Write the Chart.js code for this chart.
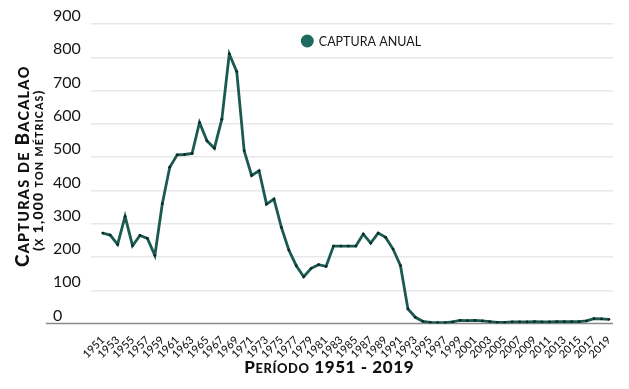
<!DOCTYPE html>
<html lang="es">
<head>
<meta charset="utf-8">
<title>Capturas de bacalao 1951 - 2019</title>
<script src="https://cdn.jsdelivr.net/npm/chart.js@4.4.1/dist/chart.umd.min.js"></script>
<style>
    html, body { margin: 0; padding: 0; background: #ffffff; }
    #wrap { width: 629px; height: 389px; }
</style>
</head>
<body>
<div id="wrap"><canvas id="codChart"></canvas></div>
<script>
/* ===========================================
   DATA
=========================================== */

const years = [
    1951, 1952, 1953, 1954, 1955, 1956, 1957, 1958, 1959, 1960,
    1961, 1962, 1963, 1964, 1965, 1966, 1967, 1968, 1969, 1970,
    1971, 1972, 1973, 1974, 1975, 1976, 1977, 1978, 1979, 1980,
    1981, 1982, 1983, 1984, 1985, 1986, 1987, 1988, 1989, 1990,
    1991, 1992, 1993, 1994, 1995, 1996, 1997, 1998, 1999, 2000,
    2001, 2002, 2003, 2004, 2005, 2006, 2007, 2008, 2009, 2010,
    2011, 2012, 2013, 2014, 2015, 2016, 2017, 2018, 2019
];

// capturas anuales, miles de toneladas
const catches = [
    272, 266, 238, 322, 234, 265, 256, 205, 360, 470,
    507, 508, 511, 604, 549, 527, 614, 810, 757, 519,
    445, 459, 359, 374, 289, 221, 174, 141, 166, 177,
    172, 233, 233, 233, 233, 269, 242, 272, 259, 224,
    174, 44, 19, 7, 4, 3, 3, 5, 10, 9,
    10, 8, 6, 4, 4, 5, 5, 5, 6, 5,
    5, 6, 6, 6, 6, 8, 15, 14, 13
];

const xTickYears = [
    1951, 1953, 1955, 1957, 1959, 1961, 1963, 1965, 1967, 1969,
    1971, 1973, 1975, 1977, 1979, 1981, 1983, 1985, 1987, 1989,
    1991, 1993, 1995, 1997, 1999, 2001, 2003, 2005, 2007, 2009,
    2011, 2013, 2015, 2017, 2019
];

const yTicks = [0, 100, 200, 300, 400, 500, 600, 700, 800, 900];

const seriesLabel = "CAPTURA ANUAL";
const yTitleLines = ["Capturas de Bacalao", "(x 1,000 ton métricas)"];
const xTitle = "Período 1951 - 2019";

/* ===========================================
   STYLE
=========================================== */

const FONT = "Lato, 'Noto Sans', sans-serif";
const LINE_COLOR = "#1b5a51";
const DOT_COLOR = "#0c2925";
const LEGEND_COLOR = "#1d6a5e";
const GRID_COLOR = "#e8e8e8";
const TEXT_COLOR = "#161616";

Chart.defaults.font.family = FONT;
Chart.defaults.color = TEXT_COLOR;

/* small caps drawn by hand: lowercase letters become smaller capitals */
function drawSmallCaps(ctx, text, x, y, size, weight, spacing) {
    const glyphs = [];
    let total = 0;
    for (const ch of text) {
        const isLower = ch !== ch.toUpperCase();
        const s = isLower ? size * 0.76 : size;
        const c = ch.toUpperCase();
        ctx.font = weight + " " + s + "px " + FONT;
        const w = ctx.measureText(c).width;
        glyphs.push({ c, s, w });
        total += w;
    }
    total += spacing * (glyphs.length - 1);
    let cx = x - total / 2;
    ctx.textAlign = "left";
    ctx.textBaseline = "alphabetic";
    glyphs.forEach(g => {
        ctx.font = weight + " " + g.s + "px " + FONT;
        ctx.fillText(g.c, cx, y);
        cx += g.w + spacing;
    });
}

/* ===========================================
   PLUGINS
=========================================== */

// zero line, running left under the "0" label
const zeroLine = {
    id: "zeroLine",
    beforeDatasetsDraw(chart) {
        const { ctx, chartArea } = chart;
        const y = chart.scales.y.getPixelForValue(0);
        ctx.save();
        ctx.strokeStyle = "#8a8a8a";
        ctx.lineWidth = 1.5;
        ctx.beginPath();
        ctx.moveTo(chartArea.left - 45, y);
        ctx.lineTo(chartArea.right, y);
        ctx.stroke();
        ctx.restore();
    }
};

// axis titles in small caps
const axisTitles = {
    id: "axisTitles",
    afterDraw(chart) {
        const { ctx, chartArea } = chart;
        const midY = (chartArea.top + chartArea.bottom) / 2;
        ctx.save();
        ctx.fillStyle = "#111111";

        ctx.save();
        ctx.translate(29, midY - 7);
        ctx.rotate(-Math.PI / 2);
        drawSmallCaps(ctx, yTitleLines[0], 0, 0, 19, "900", 1.2);
        ctx.restore();

        ctx.save();
        ctx.translate(43, midY - 3);
        ctx.rotate(-Math.PI / 2);
        drawSmallCaps(ctx, yTitleLines[1], 0, 0, 14, "900", 1.1);
        ctx.restore();

        drawSmallCaps(ctx, xTitle, (chartArea.left + chartArea.right) / 2 - 23, chart.height - 16, 17, "900", 0.6);
        ctx.restore();
    }
};

// legend inside the plot
const innerLegend = {
    id: "innerLegend",
    afterDraw(chart) {
        const { ctx, chartArea } = chart;
        const label = chart.data.datasets[0].label;
        ctx.save();
        ctx.font = "12.5px " + FONT;
        const textW = ctx.measureText(label).width;
        const r = 6.5;
        const total = r * 2 + 5 + textW;
        const left = (chartArea.left + chartArea.right) / 2 + 9 - total / 2;
        const cy = chartArea.top + 17;
        ctx.fillStyle = LEGEND_COLOR;
        ctx.beginPath();
        ctx.arc(left + r, cy, r, 0, Math.PI * 2);
        ctx.fill();
        ctx.fillStyle = TEXT_COLOR;
        ctx.textAlign = "left";
        ctx.textBaseline = "middle";
        ctx.fillText(label, left + r * 2 + 5, cy + 1);
        ctx.restore();
    }
};

/* ===========================================
   CHART
=========================================== */

const codChart = new Chart(

    document.getElementById("codChart"),

    {

        type: "line",

        data: {

            datasets: [

                {

                    label: seriesLabel,

                    data: years.map((yr, i) => ({ x: yr, y: catches[i] })),

                    borderColor: LINE_COLOR,

                    borderWidth: 2.8,

                    pointRadius: 1.4,

                    pointBackgroundColor: DOT_COLOR,

                    pointBorderWidth: 0,

                    tension: 0,

                    fill: false

                }

            ]

        },

        options: {

            responsive: true,

            maintainAspectRatio: false,

            animation: false,

            layout: {

                padding: { left: 53, top: 24, right: 16, bottom: 26 }

            },

            plugins: {

                legend: { display: false },

                tooltip: { enabled: false }

            },

            scales: {

                x: {

                    type: "linear",

                    min: 1949.4,

                    max: 2019.55,

                    afterBuildTicks: scale => {
                        scale.ticks = xTickYears.map(v => ({ value: v }));
                    },

                    grid: { display: false },

                    border: { display: false },

                    ticks: {

                        autoSkip: false,

                        minRotation: 45,

                        maxRotation: 45,

                        padding: 2,

                        color: TEXT_COLOR,

                        font: { size: 11, weight: "500" },

                        callback: v => String(v)

                    }

                },

                y: {

                    min: 0,

                    max: 900,

                    afterBuildTicks: scale => {
                        scale.ticks = yTicks.map(v => ({ value: v }));
                    },

                    grid: {

                        color: c => (c.tick && c.tick.value === 0 ? "rgba(0,0,0,0)" : GRID_COLOR),

                        lineWidth: 1.5,

                        drawTicks: false

                    },

                    border: { display: false },

                    ticks: {

                        crossAlign: "far",

                        padding: 5,

                        labelOffset: -8,

                        color: TEXT_COLOR,

                        font: { size: 16 }

                    }

                }

            }

        },

        plugins: [zeroLine, axisTitles, innerLegend]

    }

);
</script>
</body>
</html>
